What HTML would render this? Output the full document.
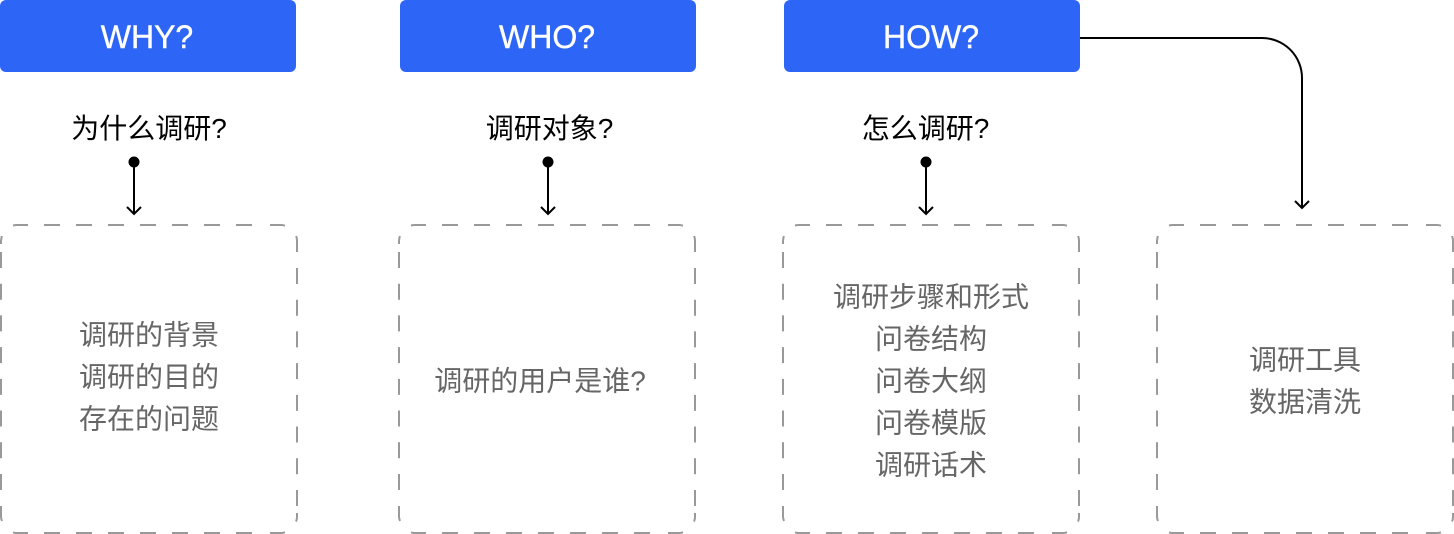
<!DOCTYPE html>
<html><head><meta charset="utf-8"><style>
html,body{margin:0;padding:0;background:#fff}
svg{display:block}
text{font-family:"Liberation Sans","Noto Sans CJK SC",sans-serif;text-anchor:middle}
.h{font-size:32px;fill:#fff;stroke:#fff;stroke-width:.4}
.q{font-size:28px;fill:#000}
.t{font-size:28px;fill:#666}
.d{fill:none;stroke:#999;stroke-width:2}
.l{fill:none;stroke:#000;stroke-width:2}
.b{fill:#2d66f6}
</style></head><body>
<svg width="1454" height="534" viewBox="0 0 1454 534" xmlns="http://www.w3.org/2000/svg">
<defs>
<g id="box" class="d">
<path d="M13 225.5Q15 225 17 225H28M1.8 236Q1.3 238.5 1 241V244"/>
<path d="M270 225H281Q283 225 285 225.7M296.2 236Q297 238.5 297 241V252"/>
<path d="M13 532.5Q15 533 17 533H28M1 506V517Q1.3 519.5 2 521"/>
<path d="M270 533H281Q283 533 285 532.3M297 513V517Q297 519.5 296 521.5"/>
<path stroke-dasharray="16 16" d="M44 225H254"/>
<path stroke-dasharray="16 16" d="M44 533H254"/>
<path stroke-dasharray="16 15.71" d="M1 252V490"/>
<path stroke-dasharray="16 15.71" d="M297 268V506"/>
</g>
</defs>
<rect class="b" x="0" y="0" width="296" height="72" rx="6"/>
<rect class="b" x="400" y="0" width="296" height="72" rx="6"/>
<rect class="b" x="784" y="0" width="296" height="72" rx="6"/>
<text class="h" x="147" y="48">WHY?</text>
<text class="h" x="547" y="48">WHO?</text>
<text class="h" x="931" y="48">HOW?</text>
<text class="q" x="149" y="138">为什么调研?</text>
<text class="q" x="549.5" y="138">调研对象?</text>
<text class="q" x="925.5" y="138">怎么调研?</text>
<circle cx="134" cy="162" r="5.5"/><path class="l" d="M134 162V214M127 207l7 7l7-7"/>
<circle cx="548" cy="162" r="5.5"/><path class="l" d="M548 162V214M541 207l7 7l7-7"/>
<circle cx="926" cy="162" r="5.5"/><path class="l" d="M926 162V214M919 207l7 7l7-7"/>
<path class="l" d="M1080 38H1262A40 40 0 0 1 1302 78V208M1295 201l7 7l7-7"/>
<use href="#box"/>
<use href="#box" transform="translate(398 0)"/>
<use href="#box" transform="translate(782 0)"/>
<use href="#box" transform="translate(1156 0)"/>
<text class="t" x="149" y="344.5">调研的背景</text>
<text class="t" x="149" y="386.5">调研的目的</text>
<text class="t" x="149" y="428.5">存在的问题</text>
<text class="t" x="540" y="390.5">调研的用户是谁?</text>
<text class="t" x="931" y="306.5">调研步骤和形式</text>
<text class="t" x="931" y="348.5">问卷结构</text>
<text class="t" x="931" y="390.5">问卷大纲</text>
<text class="t" x="931" y="432.5">问卷模版</text>
<text class="t" x="931" y="474.5">调研话术</text>
<text class="t" x="1305" y="369.5">调研工具</text>
<text class="t" x="1305" y="411.5">数据清洗</text>
</svg>
</body></html>
